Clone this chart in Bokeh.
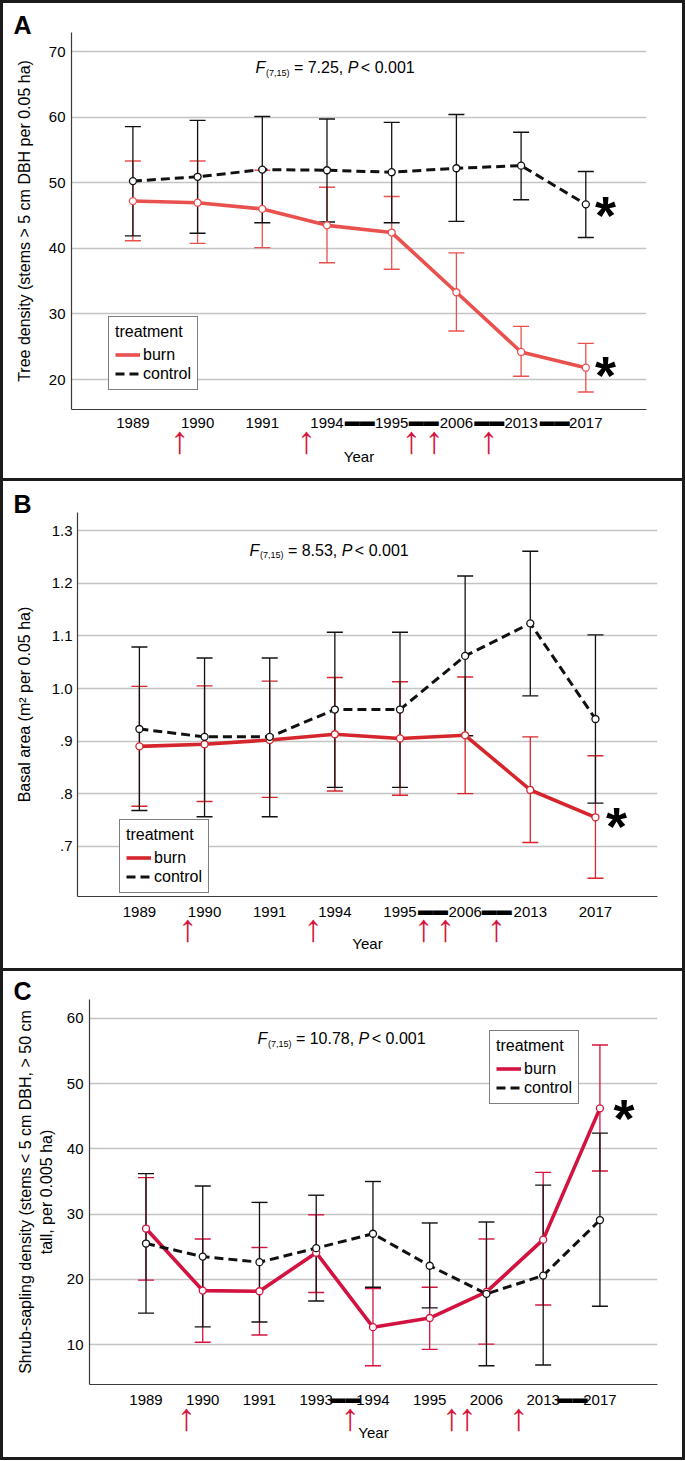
from bokeh.plotting import figure
from bokeh.models import (Range1d, FixedTicker, Legend, LegendItem, LinearAxis,
                          CustomJSTickFormatter)
from bokeh.layouts import column
from bokeh.embed import file_html
from bokeh.resources import INLINE
from bokeh.core.properties import value

FONT = "Liberation Sans"

# ---------------- data ----------------
years_ab = ["1989", "1990", "1991", "1994", "1995", "2006", "2013", "2017"]
years_c = ["1989", "1990", "1991", "1993", "1994", "1995", "2006", "2013", "2017"]

tree_burn = [47.2, 46.95, 46.0, 43.5, 42.4, 33.3, 24.2, 21.8]
tree_burn_lo = [41.15, 40.75, 40.1, 37.8, 36.8, 27.4, 20.5, 18.1]
tree_burn_hi = [53.3, 53.3, 51.9, 49.3, 47.9, 39.3, 28.1, 25.5]
tree_ctrl = [50.25, 50.9, 52.0, 51.9, 51.6, 52.2, 52.6, 46.7]
tree_ctrl_lo = [41.9, 42.3, 43.9, 44.0, 43.9, 44.1, 47.4, 41.65]
tree_ctrl_hi = [58.55, 59.5, 60.1, 59.7, 59.2, 60.4, 57.7, 51.7]

basal_burn = [0.890, 0.894, 0.902, 0.913, 0.905, 0.911, 0.807, 0.755]
basal_burn_lo = [0.776, 0.785, 0.793, 0.805, 0.797, 0.800, 0.707, 0.639]
basal_burn_hi = [1.004, 1.005, 1.014, 1.021, 1.013, 1.022, 0.908, 0.872]
basal_ctrl = [0.923, 0.908, 0.908, 0.960, 0.960, 1.062, 1.124, 0.942]
basal_ctrl_lo = [0.768, 0.756, 0.756, 0.812, 0.812, 0.910, 0.986, 0.782]
basal_ctrl_hi = [1.079, 1.058, 1.058, 1.107, 1.107, 1.214, 1.261, 1.102]

shrub_burn = [27.8, 18.3, 18.2, 24.1, 12.7, 14.1, 18.1, 26.1, 46.2]
shrub_burn_lo = [19.9, 10.4, 11.5, 18.0, 6.8, 9.3, 10.1, 16.1, 36.6]
shrub_burn_hi = [35.6, 26.2, 24.9, 29.9, 18.6, 18.8, 26.2, 36.4, 55.9]
shrub_ctrl = [25.5, 23.5, 22.65, 24.8, 27.0, 22.1, 17.8, 20.6, 29.1]
shrub_ctrl_lo = [14.85, 12.75, 13.5, 16.7, 18.8, 15.65, 6.8, 6.9, 15.9]
shrub_ctrl_hi = [36.2, 34.3, 31.8, 32.9, 35.0, 28.65, 28.8, 34.45, 42.4]

stats_a = "7.25"
stats_b = "8.53"
stats_c = "10.78"

# Arial-compatible advance widths (per 1000 em) for the statistic text
AW = {" ": 278, "=": 584, "<": 584, ".": 278, ",": 278, "P": 667, "F": 611}
AW.update({d: 556 for d in "0123456789"})


def tw(s, size):
    return sum(AW[c] for c in s) * size / 1000.0


ARROW_RED = "#d6163c"
H15 = 17  # approx. height of a 15px tick-label box


def style_axis(ax):
    ax.major_tick_out = 0
    ax.major_tick_in = 0
    ax.minor_tick_out = 0
    ax.minor_tick_in = 0
    ax.axis_line_color = "#3a3a3a"
    ax.axis_line_width = 1.2
    ax.major_label_text_font = FONT
    ax.major_label_text_font_size = "15px"
    ax.major_label_text_color = "black"
    ax.axis_label_text_font = FONT
    ax.axis_label_text_font_size = "16px"
    ax.axis_label_text_font_style = "normal"
    ax.axis_label_text_color = "black"


def build(cfg):
    n = len(cfg["years"])
    xs = list(range(n))

    def X(px):
        return (px - cfg["cat0"]) / cfg["sp"]

    def Y(py):
        return cfg["gval"] - (py - cfg["gpx"]) / cfg["ppu"]

    p = figure(width=679, height=cfg["h"], output_backend="svg", toolbar_location=None,
               title=cfg["letter"],
               x_range=Range1d(X(cfg["fl"]), X(cfg["fr"])),
               y_range=Range1d(Y(cfg["fb"]), Y(cfg["ft"])),
               min_border_left=cfg["mbl"], min_border_right=cfg["mbr"],
               min_border_top=cfg["mbt"], min_border_bottom=cfg["mbb"])
    p.outline_line_color = None
    p.background_fill_color = "white"
    p.border_fill_color = "white"

    # panel letter as title, pulled left of the frame
    p.title.align = "left"
    p.title.offset = 13 - cfg["fl"]
    p.title.standoff = cfg["tstand"]
    p.title.text_font = FONT
    p.title.text_font_size = "25px"
    p.title.text_font_style = "bold"
    p.title.text_color = "black"

    # 1st bottom axis: axis line + black gap bars between year labels
    da = p.xaxis[0]
    dash_c = [X((d0 + d1) / 2.0) for d0, d1 in cfg["dashes"]]
    da.ticker = FixedTicker(ticks=dash_c)
    da.formatter = CustomJSTickFormatter(code="return '\u25ac\u25ac';")
    style_axis(da)
    sd = cfg["xls"] - 3
    da.major_label_standoff = sd

    # 2nd bottom axis: year labels (pulled back up to the first row)
    xa = LinearAxis(ticker=FixedTicker(ticks=xs),
                    major_label_overrides={i: y for i, y in enumerate(cfg["years"])})
    p.add_layout(xa, "below")
    style_axis(xa)
    xa.axis_line_color = None
    xa.major_label_standoff = cfg["xls"] - sd - H15

    # 3rd bottom axis: fire arrows + "Year"
    arr = LinearAxis(ticker=FixedTicker(ticks=[X(a) for a in cfg["arrows"]]),
                     formatter=CustomJSTickFormatter(code="return '\u2191';"))
    p.add_layout(arr, "below")
    style_axis(arr)
    arr.axis_label = "Year"
    arr.axis_line_color = None
    arr.major_label_text_color = ARROW_RED
    arr.major_label_text_font_size = "38px"
    arr.major_label_standoff = cfg["arr_std"]
    arr.axis_label_text_font_size = "15px"
    arr.axis_label_standoff = cfg["year_std"]

    ya = p.yaxis[0]
    ya.ticker = FixedTicker(ticks=cfg["yticks"])
    if cfg.get("yover"):
        ya.major_label_overrides = cfg["yover"]
    ya.axis_label = cfg["ylabel"]
    style_axis(ya)
    ya.major_label_standoff = cfg["yls"]
    ya.axis_label_standoff = cfg["yals"]

    p.xgrid.visible = False
    p.ygrid.grid_line_color = "#c4c4c4"
    p.ygrid.grid_line_width = 1.6

    red = cfg["red"]
    burn, blo, bhi = cfg["burn"]
    ctrl, clo, chi = cfg["ctrl"]

    # error bars
    for lo, hi, col in ((blo, bhi, red), (clo, chi, "#111111")):
        p.segment(x0=xs, y0=lo, x1=xs, y1=hi, line_color=col, line_width=1.3)
        p.scatter(xs, lo, marker="dash", size=16, line_color=col, line_width=1.4)
        p.scatter(xs, hi, marker="dash", size=16, line_color=col, line_width=1.4)

    rb = p.line(xs, burn, line_color=red, line_width=3.6, line_join="round")
    rc = p.line(xs, ctrl, line_color="#111111", line_width=3.0, line_dash="9 5")
    p.scatter(xs, burn, marker="circle", size=7, line_color=red, line_width=1.3, fill_color="white")
    p.scatter(xs, ctrl, marker="circle", size=7, line_color="#111111", line_width=1.3, fill_color="white")

    # legend
    lg = Legend(items=[LegendItem(label="burn", renderers=[rb]),
                       LegendItem(label="control", renderers=[rc])],
                location=cfg["legloc"], title="treatment",
                title_text_font=FONT, title_text_font_size="16px", title_text_font_style="normal",
                title_text_color="black", title_standoff=4,
                label_text_font=FONT, label_text_font_size="16px", label_text_color="black",
                label_standoff=3, label_height=19, glyph_height=19, glyph_width=25,
                spacing=0, padding=6, margin=0,
                border_line_color="black", border_line_width=1.5,
                background_fill_color="white", background_fill_alpha=1.0)
    p.add_layout(lg)

    # statistic text  F(7,15) = x, P < 0.001
    fx, fy = cfg["fpos"]
    s1 = "= " + cfg["stat"] + ","
    x_eq = 38.4
    x_p = x_eq + tw(s1, 16) + 4.4
    x_lt = x_p + tw("P", 16) + 2.5
    pieces = [
        ("F", 0.0, fy, "16px", "italic"),
        ("(7,15)", 10.5, fy + 4.8, "9px", "normal"),
        (s1, x_eq, fy, "16px", "normal"),
        ("P", x_p, fy, "16px", "italic"),
        ("< 0.001", x_lt, fy, "16px", "normal"),
    ]
    for txt, dx, by, size, style in pieces:
        p.text(x=[X(fx + dx)], y=[Y(by)], text=[txt], text_font=value(FONT),
               text_font_size=value(size), text_font_style=style,
               text_baseline="alphabetic", text_align="left", text_color="black")

    # significance asterisks
    for (ax_, ay_) in cfg["stars"]:
        p.text(x=[X(ax_)], y=[Y(ay_ + 7.5)], text=["*"], text_font=value(FONT),
               text_font_size=value("54px"), text_font_style="bold",
               text_baseline="alphabetic", text_align="center", text_color="black")
    return p


cfgA = dict(years=years_ab, letter="A", h=475, mbt=29, mbb=69, mbl=68, mbr=36, tstand=-12,
            fl=71, fr=646, ft=32, fb=409, cat0=132.4, sp=64.7, gval=70, gpx=51, ppu=6.56,
            yticks=[20, 30, 40, 50, 60, 70], yover=None,
            ylabel="Tree density (stems > 5 cm DBH per 0.05 ha)",
            xls=5, yls=6, yals=13, arr_std=-13, year_std=-16, red="#e9514f",
            burn=(tree_burn, tree_burn_lo, tree_burn_hi), ctrl=(tree_ctrl, tree_ctrl_lo, tree_ctrl_hi),
            legloc=(37, 19), stat=stats_a, fpos=(255, 67.4),
            stars=[(605, 206.7), (605, 366.7)],
            arrows=[179.1, 305.8, 410.7, 433.4, 488.0],
            dashes=[(346.5, 372.2), (410.7, 435.6), (476.2, 501.1), (541.7, 567.0)])

cfgB = dict(years=years_ab, letter="B", h=487, mbt=31, mbb=72, mbl=74, mbr=25, tstand=-10,
            fl=77, fr=657, ft=512, fb=896, cat0=138.9, sp=65.15, gval=1.3, gpx=530.3, ppu=525.7,
            yticks=[0.7, 0.8, 0.9, 1.0, 1.1, 1.2, 1.3],
            yover={0.7: ".7", 0.8: ".8", 0.9: ".9", 1.0: "1.0", 1.1: "1.1", 1.2: "1.2", 1.3: "1.3"},
            ylabel="Basal area (m\u00b2 per 0.05 ha)",
            xls=7, yls=5, yals=16, arr_std=-14, year_std=-17, red="#d4262c",
            burn=(basal_burn, basal_burn_lo, basal_burn_hi), ctrl=(basal_ctrl, basal_ctrl_lo, basal_ctrl_hi),
            legloc=(42, 3), stat=stats_b, fpos=(249, 549.7),
            stars=[(616, 818)],
            arrows=[187.0, 312.4, 422.9, 444.7, 495.8],
            dashes=[(419.4, 445.6), (483.6, 509.0)])

cfgC = dict(years=years_c, letter="C", h=486, mbt=28, mbb=73, mbl=86, mbr=25, tstand=-11,
            fl=89, fr=657, ft=999, fb=1384, cat0=145.5, sp=56.74, gval=60, gpx=1017.7, ppu=6.532,
            yticks=[10, 20, 30, 40, 50, 60], yover=None,
            ylabel="Shrub-sapling density (stems < 5 cm DBH, > 50 cm\ntall, per 0.005 ha)",
            xls=7, yls=6, yals=9, arr_std=-13, year_std=-17, red="#d3123f",
            burn=(shrub_burn, shrub_burn_lo, shrub_burn_hi), ctrl=(shrub_ctrl, shrub_ctrl_lo, shrub_ctrl_hi),
            legloc=(400, 280), stat=stats_c, fpos=(257, 1038.4),
            stars=[(623.4, 1110)],
            arrows=[185.7, 349.5, 450.9, 466.6, 518.1],
            dashes=[(335.5, 354.7), (563.6, 580.2)])

pa = build(cfgA)
pb = build(cfgB)
pc = build(cfgC)

BORDER = "3px solid #1b1b1b"
wa = column(pa, styles={"border": BORDER})
wb = column(pb, styles={"border-left": BORDER, "border-right": BORDER, "border-bottom": BORDER})
wc = column(pc, styles={"border-left": BORDER, "border-right": BORDER, "border-bottom": BORDER})
layout = column(wa, wb, wc, spacing=0)

with open("out.html", "w", encoding="utf-8") as f:
    f.write(file_html(layout, INLINE))
